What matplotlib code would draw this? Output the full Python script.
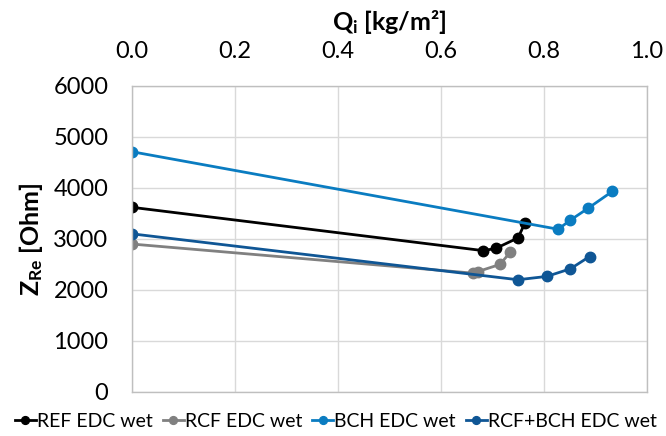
import numpy as np
import matplotlib
matplotlib.use("Agg")
import matplotlib.pyplot as plt

plt.rcParams['font.family'] = ['Lato', 'DejaVu Sans']
plt.rcParams['mathtext.fontset'] = 'custom'
plt.rcParams['mathtext.rm'] = 'Lato:bold'
plt.rcParams['mathtext.bf'] = 'Lato:bold'
plt.rcParams['mathtext.it'] = 'Lato:bold'

# data
ref_x = [0.0, 0.683, 0.707, 0.750, 0.764]
ref_y = [3620, 2770, 2815, 3020, 3320]

rcf_x = [0.0, 0.662, 0.672, 0.715, 0.735]
rcf_y = [2900, 2330, 2360, 2500, 2740]

bch_x = [0.0, 0.828, 0.852, 0.886, 0.933]
bch_y = [4710, 3190, 3370, 3600, 3930]

rb_x = [0.0, 0.750, 0.806, 0.852, 0.889]
rb_y = [3100, 2200, 2265, 2415, 2655]

series = [
    (ref_x, ref_y, 'REF EDC wet', '#000000'),
    (rcf_x, rcf_y, 'RCF EDC wet', '#808080'),
    (bch_x, bch_y, 'BCH EDC wet', '#0a7cc1'),
    (rb_x, rb_y, 'RCF+BCH EDC wet', '#0f5695'),
]

fig = plt.figure(figsize=(6.66, 4.36), dpi=100)
ax = fig.add_axes([0.198, 0.101, 0.773, 0.702])

for x, y, lab, col in series:
    ax.plot(x, y, color=col, linewidth=2.0, marker='o', markersize=7.5, label=lab)

ax.set_xlim(0, 1.0)
ax.set_ylim(0, 6000)
ax.set_xticks(np.arange(0, 1.01, 0.2))
ax.set_yticks(np.arange(0, 6001, 1000))
ax.xaxis.set_major_formatter(matplotlib.ticker.FormatStrFormatter('%.1f'))
ax.xaxis.tick_top()
ax.xaxis.set_label_position('top')
ax.tick_params(length=0, labelsize=17)
ax.tick_params(axis='x', pad=17)
ax.tick_params(axis='y', pad=17)

ax.grid(True, color='#d9d9d9', linewidth=1.0)
ax.set_axisbelow(True)
for s in ax.spines.values():
    s.set_color('#bfbfbf')
    s.set_linewidth(1.0)

ax.set_xlabel(r'Q$_\mathregular{i}$ [kg/m²]', fontsize=18, fontweight='bold', labelpad=8)
ax.set_ylabel(r'Z$_\mathregular{Re}$ [Ohm]', fontsize=18, fontweight='bold', labelpad=6)

leg = ax.legend(loc='upper center', bbox_to_anchor=(0.396, -0.01), ncol=4, frameon=False,
                fontsize=14, handlelength=1.1, handletextpad=0.05, columnspacing=0.5,
                markerscale=0.75)

fig.savefig('out.png', dpi=100)
